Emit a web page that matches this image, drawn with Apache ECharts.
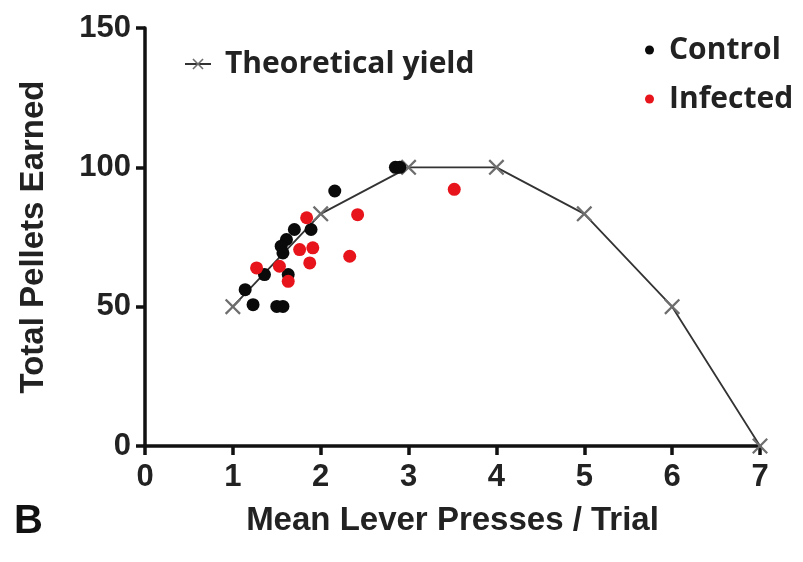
<!DOCTYPE html>
<html><head><meta charset="utf-8">
<script src="https://cdn.jsdelivr.net/npm/echarts@6/dist/echarts.min.js"></script>
<style>html,body{margin:0;padding:0;background:#fff}#c{width:803px;height:562px}</style>
</head><body><div id="c"></div>
<script>
const theoreticalX = [1, 2, 3, 4, 5, 6, 7];
const theoreticalY = [50, 83.3, 100, 100, 83.3, 50, 0];
const controlX = [2.85, 2.9, 2.16, 1.89, 1.70, 1.61, 1.55, 1.57, 1.36, 1.63, 1.14, 1.23, 1.50, 1.57];
const controlY = [100, 100, 91.5, 77.7, 77.7, 74.1, 71.7, 69.3, 61.5, 61.5, 56.1, 50.7, 50.1, 50.1];
const infectedX = [3.52, 2.42, 1.84, 1.91, 1.76, 1.875, 2.33, 1.27, 1.53, 1.63];
const infectedY = [92.1, 83, 81.9, 71.1, 70.5, 65.7, 68.1, 63.9, 64.5, 59.1];
const xTicks = [0, 1, 2, 3, 4, 5, 6, 7];
const yTicks = [0, 50, 100, 150];

const zip = (a, b) => a.map((v, i) => [v, b[i]]);
const crossPath = 'path://M0,1L1,0L5,4L9,0L10,1L6,5L10,9L9,10L5,6L1,10L0,9L4,5Z';
const font = 'Liberation Sans';
const legendFont = 'Open Sans';

const chart = echarts.init(document.getElementById('c'));
chart.setOption({
  animation: false,
  backgroundColor: '#fff',
  grid: { left: 145, right: 43, top: 28, bottom: 116, containLabel: false },
  xAxis: {
    type: 'value', min: 0, max: 7, interval: 1,
    name: 'Mean Lever Presses / Trial', nameLocation: 'middle', nameGap: 58,
    nameTextStyle: { fontFamily: font, fontWeight: 'bold', fontSize: 33, color: '#222' },
    axisLine: { lineStyle: { color: '#111', width: 3.5 } },
    axisTick: { show: true, length: 9, lineStyle: { color: '#111', width: 3.5 } },
    axisLabel: { fontFamily: font, fontWeight: 'bold', fontSize: 31, color: '#222', margin: 16,
      formatter: v => xTicks.includes(v) ? String(v) : '' },
    splitLine: { show: false }
  },
  yAxis: {
    type: 'value', min: 0, max: 150, interval: 50,
    name: 'Total Pellets Earned', nameLocation: 'middle', nameGap: 95, nameRotate: 90,
    nameTextStyle: { fontFamily: font, fontWeight: 'bold', fontSize: 33, color: '#222' },
    axisLine: { show: true, lineStyle: { color: '#111', width: 3.5 } },
    axisTick: { show: true, length: 9, lineStyle: { color: '#111', width: 3.5 } },
    axisLabel: { fontFamily: font, fontWeight: 'bold', fontSize: 31, color: '#222', margin: 14,
      formatter: v => yTicks.includes(v) ? String(v) : '' },
    splitLine: { show: false }
  },
  legend: [
    { data: ['Theoretical yield'], left: 179, top: 44, itemWidth: 26, itemHeight: 14, itemGap: 10,
      textStyle: { fontFamily: legendFont, fontWeight: 'bold', fontSize: 30, lineHeight: 30,
        color: '#222', padding: [0, 0, 0, 9] } },
    { data: [{ name: 'Control', icon: 'circle' }, { name: 'Infected', icon: 'circle' }],
      left: 640, top: 30, orient: 'vertical', itemWidth: 9, itemHeight: 9, itemGap: 19,
      textStyle: { fontFamily: legendFont, fontWeight: 'bold', fontSize: 30, lineHeight: 30,
        color: '#222', padding: [0, 0, 0, 10] } }
  ],
  series: [
    { name: 'Theoretical yield', type: 'line', data: zip(theoreticalX, theoreticalY),
      symbol: crossPath, symbolSize: 16, z: 3,
      lineStyle: { color: '#333', width: 1.8 },
      itemStyle: { color: '#6e6e6e', opacity: 1 } },
    { name: 'Control', type: 'scatter', data: zip(controlX, controlY),
      symbol: 'circle', symbolSize: 13, z: 4, itemStyle: { color: '#0a0a0a', opacity: 1 } },
    { name: 'Infected', type: 'scatter', data: zip(infectedX, infectedY),
      symbol: 'circle', symbolSize: 13, z: 5, itemStyle: { color: '#e8141b', opacity: 1 } }
  ],
  graphic: [
    { type: 'text', left: 14, top: 502,
      style: { text: 'B', fontFamily: font, fontWeight: 'bold', fontSize: 40, fill: '#111' } }
  ]
});
</script></body></html>
